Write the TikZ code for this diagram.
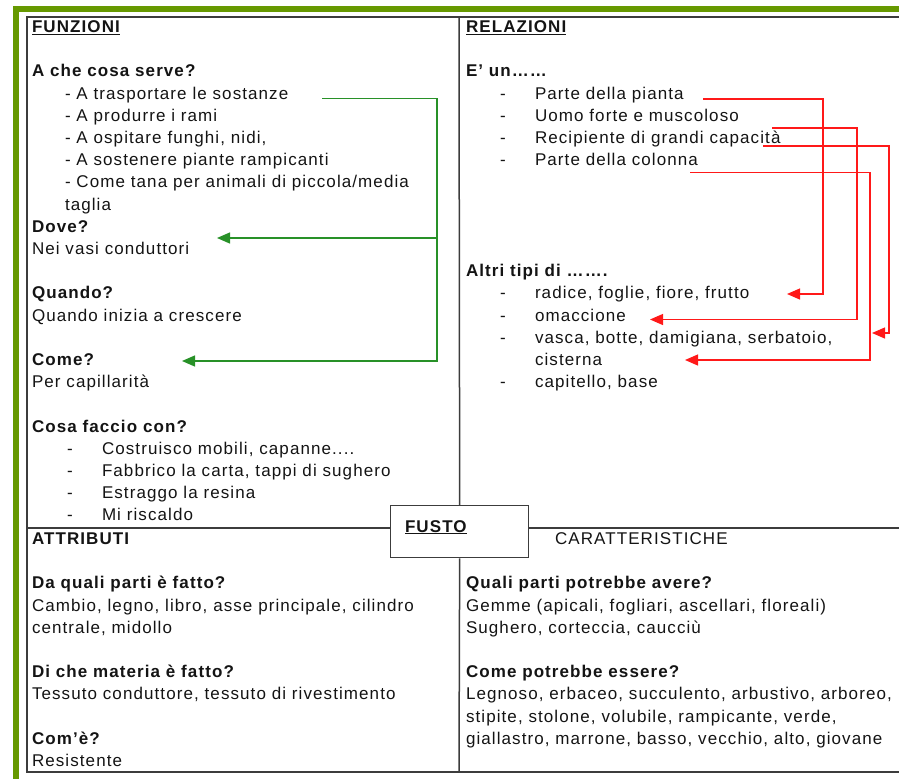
\documentclass[tikz,border=0pt]{standalone}
\usepackage{fontspec}
\setmainfont{Liberation Sans}[LetterSpace=6.4]
\usetikzlibrary{arrows.meta}

\definecolor{outerframe}{RGB}{102,153,0}
\definecolor{gridline}{RGB}{60,60,60}
\definecolor{grnarrow}{RGB}{40,145,40}
\definecolor{redarrow}{RGB}{255,25,25}
\definecolor{ink}{RGB}{20,20,20}

% heading underline with a heavier rule
\newcommand\hdul[1]{\setbox0\hbox{#1}\rlap{\rule[-2.4pt]{\wd0}{1.3pt}}\box0}

\tikzset{
  txt/.style={anchor=base west, inner sep=0pt, outer sep=0pt, text=ink,
    font=\fontsize{17}{20}\selectfont},
  hd/.style={txt, font=\fontsize{17}{20}\selectfont\bfseries},
  divider/.style={draw=gridline, line width=1.5pt},
  gline/.style={draw=grnarrow, line width=1.3pt},
  garrow/.style={gline, -{Triangle[length=13pt,width=11pt]}},
  rline/.style={draw=redarrow, line width=1.2pt},
  rarrow/.style={rline, -{Triangle[length=13pt,width=11pt]}},
}

\begin{document}
\begin{tikzpicture}[x=1pt, y=-1pt]
\useasboundingbox (0,0) rectangle (899,779);
\fill[white] (0,0) rectangle (899,779);

% outer green border (top and left)
\fill[outerframe] (13,6) rectangle (899,12);
\fill[outerframe] (13,6) rectangle (19,779);

% inner frame
\draw[draw=gridline, line width=2pt] (899,16.5) -- (26.5,16.5) -- (26.5,771.5) -- (899,771.5);

% central box
\node[draw=gridline, line width=1.3pt, fill=white, minimum width=138pt, minimum height=52pt,
  inner sep=0pt, anchor=north west] (fusto) at (390,505) {};
\node[hd] (fustolbl) at (405,532) {\hdul{FUSTO}};

% quadrant dividers
\coordinate (topmid) at (459,16.5);
\coordinate (botmid) at (459,771.5);
\coordinate (leftmid) at (26.5,528);
\coordinate (rightmid) at (899,528);
\draw[divider] (topmid) -- (fusto.north);
\draw[divider] (fusto.south) -- (botmid);
\draw[divider] (leftmid) -- (leftmid -| fusto.west);
\draw[divider] (rightmid -| fusto.east) -- (rightmid);

% ---- FUNZIONI ----
\node[hd] (funz) at (32,32.5) {\hdul{FUNZIONI}};
\node[hd] (q1) at (32,76.9) {A che cosa serve?};
\node[txt] (a1) at (65,99.1) {- A trasportare le sostanze};
\node[txt] (a2) at (65,121.3) {- A produrre i rami};
\node[txt] (a3) at (65,143.5) {- A ospitare funghi, nidi,};
\node[txt] (a4) at (65,165.7) {- A sostenere piante rampicanti};
\node[txt] (a5) at (65,187.9) {- Come tana per animali di piccola/media};
\node[txt] (a6) at (65,210.1) {taglia};
\node[hd] (q2) at (32,232.3) {Dove?};
\node[txt] (a7) at (32,254.5) {Nei vasi conduttori};
\node[hd] (q3) at (32,298.9) {Quando?};
\node[txt] (a8) at (32,321.1) {Quando inizia a crescere};
\node[hd] (q4) at (32,365.5) {Come?};
\node[txt] (a9) at (32,387.7) {Per capillarità};
\node[hd] (q5) at (32,432.1) {Cosa faccio con?};
\node[txt] (d1) at (67,454.3) {-};
\node[txt] (u1) at (102,454.3) {Costruisco mobili, capanne....};
\node[txt] (d2) at (67,476.5) {-};
\node[txt] (u2) at (102,476.5) {Fabbrico la carta, tappi di sughero};
\node[txt] (d3) at (67,498.7) {-};
\node[txt] (u3) at (102,498.7) {Estraggo la resina};
\node[txt] (d4) at (67,520.9) {-};
\node[txt] (u4) at (102,520.9) {Mi riscaldo};

% ---- RELAZIONI ----
\node[hd] (rel) at (466,32.5) {\hdul{RELAZIONI}};
\node[hd] (q6) at (466,76.9) {E’ un……};
\node[txt] (e1d) at (500,99.1) {-};
\node[txt] (e1) at (535,99.1) {Parte della pianta};
\node[txt] (e2d) at (500,121.3) {-};
\node[txt] (e2) at (535,121.3) {Uomo forte e muscoloso};
\node[txt] (e3d) at (500,143.5) {-};
\node[txt] (e3) at (535,143.5) {Recipiente di grandi capacità};
\node[txt] (e4d) at (500,165.7) {-};
\node[txt] (e4) at (535,165.7) {Parte della colonna};
\node[hd] (q7) at (466,276.7) {Altri tipi di …….};
\node[txt] (t1d) at (500,298.9) {-};
\node[txt] (t1) at (535,298.9) {radice, foglie, fiore, frutto};
\node[txt] (t2d) at (500,321.1) {-};
\node[txt] (t2) at (535,321.1) {omaccione};
\node[txt] (t3d) at (500,343.3) {-};
\node[txt] (t3) at (535,343.3) {vasca, botte, damigiana, serbatoio,};
\node[txt] (t3b) at (535,365.5) {cisterna};
\node[txt] (t4d) at (500,387.7) {-};
\node[txt] (t4) at (535,387.7) {capitello, base};

% ---- ATTRIBUTI ----
\node[hd] (attr) at (32,544.5) {ATTRIBUTI};
\node[hd] (q8) at (32,588.9) {Da quali parti è fatto?};
\node[txt] (b1) at (32,611.1) {Cambio, legno, libro, asse principale, cilindro};
\node[txt] (b2) at (32,633.3) {centrale, midollo};
\node[hd] (q9) at (32,677.7) {Di che materia è fatto?};
\node[txt] (b3) at (32,699.9) {Tessuto conduttore, tessuto di rivestimento};
\node[hd] (q10) at (32,744.3) {Com'è?};
\node[txt] (b4) at (32,766.5) {Resistente};

% ---- CARATTERISTICHE ----
\node[txt] (car) at (555,544.5) {CARATTERISTICHE};
\node[hd] (q11) at (466,588.9) {Quali parti potrebbe avere?};
\node[txt] (c1) at (466,611.1) {Gemme (apicali, fogliari, ascellari, floreali)};
\node[txt] (c2) at (466,633.3) {Sughero, corteccia, caucciù};
\node[hd] (q12) at (466,677.7) {Come potrebbe essere?};
\node[txt] (c3) at (466,699.9) {Legnoso, erbaceo, succulento, arbustivo, arboreo,};
\node[txt] (c4) at (466,722.1) {stipite, stolone, volubile, rampicante, verde,};
\node[txt] (c5) at (466,744.3) {giallastro, marrone, basso, vecchio, alto, giovane};

% ---- green links ----
\coordinate (gs) at (322,98.5);
\coordinate (gj) at (437,238);
\coordinate (gt1) at (217,238);
\coordinate (gt2) at (182,361);
\draw[garrow] (gs) -| (gt2 -| gj) -- (gt2);
\draw[garrow] (gj) -- (gt1);

% ---- red links ----
\coordinate (r1s) at (703,99);
\coordinate (r1t) at (787,294);
\draw[rarrow] (r1s) -- (823,99) -- (823,294) -- (r1t);
\coordinate (r2s) at (772,128);
\coordinate (r2t) at (650,319.5);
\draw[rarrow] (r2s) -- (857,128) -- (857,319.5) -- (r2t);
\coordinate (r3s) at (763,146);
\coordinate (r3t) at (872,333);
\draw[rarrow] (r3s) -- (889,146) -- (889,333) -- (r3t);
\coordinate (r4s) at (690,172.5);
\coordinate (r4t) at (685,360);
\draw[rarrow] (r4s) -- (870,172.5) -- (870,360) -- (r4t);
\end{tikzpicture}
\end{document}
